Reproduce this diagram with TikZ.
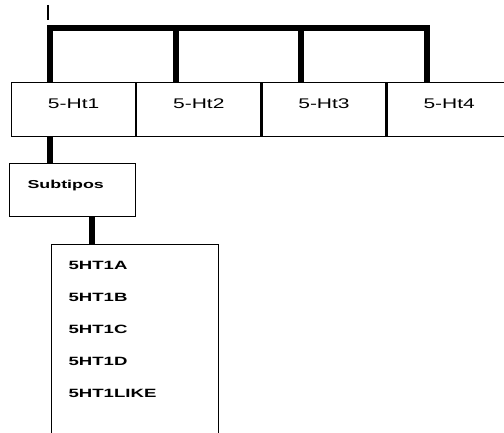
\documentclass[tikz,border=0pt]{standalone}
\usepackage{fontspec}
\usepackage{tikz}
\usetikzlibrary{positioning}
\newfontfamily\boxfont[FakeStretch=1.5]{Liberation Sans}
\newfontfamily\listfont[FakeStretch=1.55]{Liberation Sans}

\begin{document}
\begin{tikzpicture}[x=1pt, y=-1pt, line join=miter,
    topbox/.style={draw, line width=1.2pt, minimum width=124pt, inner sep=0pt, text height=26pt, text depth=28pt, font=\boxfont\fontsize{14}{16}\selectfont},
    bus/.style={line width=6pt}]
        \useasboundingbox (0,0) rectangle (504,433);
        \node[topbox, anchor=north west] (ht1) at (11,82) {5-Ht1};
        \node[topbox, right=0pt of ht1] (ht2) {5-Ht2};
        \node[topbox, right=0pt of ht2] (ht3) {5-Ht3};
        \node[topbox, right=0pt of ht3] (ht4) {5-Ht4};
        \node[draw, line width=1.2pt, anchor=north west, minimum width=126pt, inner ysep=0pt, inner xsep=18pt, text width=90pt, align=left, text height=25pt, text depth=28pt, font=\listfont\bfseries\fontsize{11.5}{13}\selectfont] (sub) at (9,163) {Subtipos};
        \node[draw, line width=1.2pt, anchor=north west, inner ysep=16.4pt, inner xsep=17pt, text width=133pt, align=left, font=\listfont\bfseries\fontsize{12}{32}\selectfont] (tipos) at (51,244)
            {5HT1A\\5HT1B\\5HT1C\\5HT1D\\5HT1LIKE\\\mbox{}};
        \coordinate (tap1) at (50,28);
        \coordinate (tap2) at (176,28);
        \coordinate (tap3) at (301,28);
        \coordinate (tap4) at (427,28);
        \coordinate (tap5) at (92,217);
        \draw[bus] (tap1 |- ht1.north) -- (tap1) -- (tap4) -- (tap4 |- ht4.north);
        \draw[bus] (tap2) -- (tap2 |- ht2.north);
        \draw[bus] (tap3) -- (tap3 |- ht3.north);
        \draw[bus] (tap1 |- ht1.south) -- (tap1 |- sub.north);
        \draw[bus] (tap5 |- sub.south) -- (tap5 |- tipos.north);
        \draw[line width=1.5pt] (48,5) -- (48,20);
    \end{tikzpicture}
\end{document}
